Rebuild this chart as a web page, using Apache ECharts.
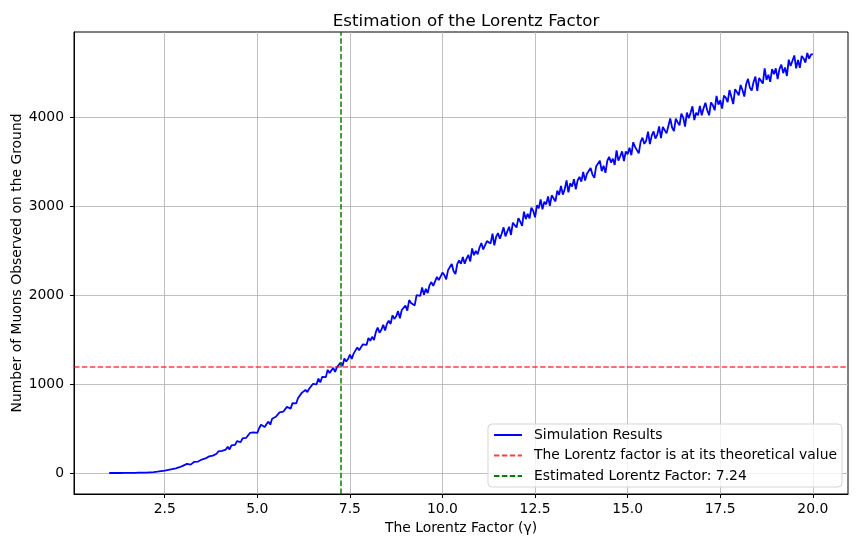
<!DOCTYPE html>
<html><head><meta charset="utf-8">
<script src="https://cdn.jsdelivr.net/npm/echarts@6/dist/echarts.min.js"></script>
<style>html,body{margin:0;padding:0;background:#fff}#c{width:859px;height:547px}</style>
</head><body><div id="c"></div>
<script>
const gamma = [
1.00,1.05,1.10,1.15,1.20,1.25,1.30,1.35,1.40,1.45,1.50,1.55,1.60,1.65,1.70,1.75,1.80,1.85,1.90,1.95,
2.00,2.05,2.10,2.15,2.20,2.25,2.30,2.35,2.40,2.45,2.50,2.55,2.60,2.65,2.70,2.75,2.80,2.85,2.90,2.95,
3.00,3.05,3.10,3.15,3.20,3.25,3.30,3.35,3.40,3.45,3.50,3.55,3.60,3.65,3.70,3.75,3.80,3.85,3.90,3.95,
4.00,4.05,4.10,4.15,4.20,4.25,4.30,4.35,4.40,4.45,4.50,4.55,4.60,4.65,4.70,4.75,4.80,4.85,4.90,4.95,
5.00,5.05,5.10,5.15,5.20,5.25,5.30,5.35,5.40,5.45,5.50,5.55,5.60,5.65,5.70,5.75,5.80,5.85,5.90,5.95,
6.00,6.05,6.10,6.15,6.20,6.25,6.30,6.35,6.40,6.45,6.50,6.55,6.60,6.65,6.70,6.75,6.80,6.85,6.90,6.95,
7.00,7.05,7.10,7.15,7.20,7.25,7.30,7.35,7.40,7.45,7.50,7.55,7.60,7.65,7.70,7.75,7.80,7.85,7.90,7.95,
8.00,8.05,8.10,8.15,8.20,8.25,8.30,8.35,8.40,8.45,8.50,8.55,8.60,8.65,8.70,8.75,8.80,8.85,8.90,8.95,
9.00,9.05,9.10,9.15,9.20,9.25,9.30,9.35,9.40,9.45,9.50,9.55,9.60,9.65,9.70,9.75,9.80,9.85,9.90,9.95,
10.00,10.05,10.10,10.15,10.20,10.25,10.30,10.35,10.40,10.45,10.50,10.55,10.60,10.65,10.70,10.75,10.80,10.85,10.90,10.95,
11.00,11.05,11.10,11.15,11.20,11.25,11.30,11.35,11.40,11.45,11.50,11.55,11.60,11.65,11.70,11.75,11.80,11.85,11.90,11.95,
12.00,12.05,12.10,12.15,12.20,12.25,12.30,12.35,12.40,12.45,12.50,12.55,12.60,12.65,12.70,12.75,12.80,12.85,12.90,12.95,
13.00,13.05,13.10,13.15,13.20,13.25,13.30,13.35,13.40,13.45,13.50,13.55,13.60,13.65,13.70,13.75,13.80,13.85,13.90,13.95,
14.00,14.05,14.10,14.15,14.20,14.25,14.30,14.35,14.40,14.45,14.50,14.55,14.60,14.65,14.70,14.75,14.80,14.85,14.90,14.95,
15.00,15.05,15.10,15.15,15.20,15.25,15.30,15.35,15.40,15.45,15.50,15.55,15.60,15.65,15.70,15.75,15.80,15.85,15.90,15.95,
16.00,16.05,16.10,16.15,16.20,16.25,16.30,16.35,16.40,16.45,16.50,16.55,16.60,16.65,16.70,16.75,16.80,16.85,16.90,16.95,
17.00,17.05,17.10,17.15,17.20,17.25,17.30,17.35,17.40,17.45,17.50,17.55,17.60,17.65,17.70,17.75,17.80,17.85,17.90,17.95,
18.00,18.05,18.10,18.15,18.20,18.25,18.30,18.35,18.40,18.45,18.50,18.55,18.60,18.65,18.70,18.75,18.80,18.85,18.90,18.95,
19.00,19.05,19.10,19.15,19.20,19.25,19.30,19.35,19.40,19.45,19.50,19.55,19.60,19.65,19.70,19.75,19.80,19.85,19.90,19.95,
20.00
];
const muons = [
0,0,0,0,0,1,0,1,1,1,2,1,2,3,2,3,4,3,4,5,
5,6,8,8,11,12,15,16,21,23,27,32,34,41,43,50,53,61,65,74,
83,79,103,101,94,111,126,140,129,133,151,165,164,161,187,202,195,213,217,244,
222,250,270,263,295,265,311,317,316,358,349,346,390,393,396,399,450,431,457,479,
452,503,543,547,516,550,578,544,610,597,632,614,682,662,689,686,743,737,724,786,
798,782,843,841,901,907,934,910,947,927,1001,998,997,1061,1019,1080,1093,1078,1160,1124,
1131,1182,1136,1190,1189,1241,1203,1287,1254,1281,1332,1282,1342,1332,1412,1381,1363,1447,1451,1440,
1518,1487,1531,1496,1583,1635,1578,1611,1666,1603,1679,1712,1676,1773,1733,1762,1820,1740,1833,1825,
1882,1825,1944,1911,1902,1884,1999,1994,1992,2087,2005,2070,2022,2110,2147,2104,2100,2204,2168,2164,
2253,2226,2177,2281,2263,2350,2269,2237,2351,2389,2352,2429,2352,2411,2452,2379,2525,2448,2497,2458,
2535,2586,2513,2500,2607,2589,2581,2692,2559,2656,2697,2633,2693,2762,2661,2717,2768,2676,2814,2800,
2760,2866,2826,2777,2938,2854,2915,2861,2982,2949,2875,3010,2975,3075,2965,3050,3020,3109,3003,3122,
3115,3053,3174,3127,3227,3129,3189,3290,3156,3257,3220,3304,3190,3291,3330,3276,3386,3287,3365,3352,
3429,3355,3318,3449,3434,3511,3393,3454,3374,3510,3555,3490,3534,3464,3626,3513,3561,3616,3508,3616,
3584,3658,3573,3719,3666,3630,3594,3723,3770,3700,3736,3838,3697,3793,3840,3759,3805,3896,3766,3890,
3910,3818,3902,3987,3884,3843,3984,3944,3908,4039,3998,3894,4052,3988,4049,4122,3967,4051,4021,4128,
4022,4101,4163,4077,4022,4166,4134,4078,4240,4141,4190,4096,4244,4221,4169,4305,4229,4147,4313,4284,
4247,4362,4306,4232,4371,4431,4332,4300,4396,4456,4296,4442,4428,4378,4548,4419,4478,4397,4541,4484,
4550,4429,4544,4591,4495,4560,4464,4647,4576,4561,4694,4549,4645,4555,4689,4661,4615,4722,4659,4705,
4710
];
const xTicks = [2.5, 5, 7.5, 10, 12.5, 15, 17.5, 20];
const yTicks = [0, 1000, 2000, 3000, 4000];
const theoreticalCount = 1200;
const estimatedGamma = 7.24;
const xRange = [0.05, 20.95];
const yRange = [-236, 4958];

const FONT = 'DejaVu Sans';
const FS = 13.9;
const chart = echarts.init(document.getElementById('c'), null, {renderer: 'canvas'});
const dashed = [5.5, 2.4];
chart.setOption({
  animation: false,
  backgroundColor: '#ffffff',
  textStyle: {fontFamily: FONT, color: '#000'},
  title: {
    text: 'Estimation of the Lorentz Factor',
    left: 461, top: 8, textAlign: 'center',
    textStyle: {fontFamily: FONT, fontSize: 16.7, fontWeight: 'normal', color: '#000'}
  },
  grid: {left: 74, right: 11, top: 32, bottom: 53, containLabel: false, outerBoundsMode: 'none',
    show: true, borderColor: '#000', borderWidth: 1, backgroundColor: 'transparent'},
  legend: {
    orient: 'vertical', right: 17, bottom: 60,
    backgroundColor: 'rgba(255,255,255,0.8)', borderColor: '#d5d5d5', borderWidth: 1, borderRadius: 4,
    padding: [4, 5, 4, 5], itemWidth: 28, itemHeight: 14, itemGap: 6.5,
    itemStyle: {opacity: 0},
    textStyle: {fontFamily: FONT, fontSize: FS, color: '#000', padding: [0, 0, 0, 7]},
    data: ['Simulation Results', 'The Lorentz factor is at its theoretical value', 'Estimated Lorentz Factor: ' + estimatedGamma.toFixed(2)]
  },
  xAxis: {
    type: 'value', min: xRange[0], max: xRange[1],
    name: 'The Lorentz Factor (γ)', nameLocation: 'middle', nameGap: 27, nameMoveOverlap: false,
    nameTextStyle: {fontFamily: FONT, fontSize: FS, color: '#000'},
    axisLine: {show: true, onZero: false, lineStyle: {color: '#000', width: 1}},
    axisTick: {show: true, length: 4, customValues: xTicks, lineStyle: {color: '#000'}},
    axisLabel: {customValues: xTicks, margin: 8, fontFamily: FONT, fontSize: FS, color: '#000', formatter: v => v.toFixed(1)},
    splitLine: {show: true, lineStyle: {color: '#b0b0b0', width: 0.8}}
  },
  yAxis: {
    type: 'value', min: yRange[0], max: yRange[1],
    name: 'Number of Muons Observed on the Ground', nameLocation: 'middle', nameGap: 50, nameMoveOverlap: false,
    nameTextStyle: {fontFamily: FONT, fontSize: FS, color: '#000'},
    axisLine: {show: true, onZero: false, lineStyle: {color: '#000', width: 1}},
    axisTick: {show: true, length: 4, customValues: yTicks, lineStyle: {color: '#000'}},
    axisLabel: {customValues: yTicks, margin: 10, fontFamily: FONT, fontSize: FS, color: '#000', formatter: v => String(v)},
    splitLine: {show: true, lineStyle: {color: '#b0b0b0', width: 0.8}}
  },
  series: [
    {
      name: 'Simulation Results', type: 'line', showSymbol: false, symbol: 'none',
      data: gamma.map((g, i) => [g, muons[i]]),
      lineStyle: {color: '#0000ff', width: 1.8}, itemStyle: {color: '#0000ff'}, z: 3
    },
    {
      name: 'The Lorentz factor is at its theoretical value', type: 'line', symbol: 'none', data: [],
      lineStyle: {color: 'rgba(255,0,0,0.75)', width: 1.5, type: dashed}, itemStyle: {color: 'rgba(255,0,0,0.75)'},
      markLine: {silent: true, symbol: 'none', label: {show: false}, animation: false,
        lineStyle: {color: 'rgba(255,0,0,0.75)', width: 1.5, type: dashed},
        data: [{yAxis: theoreticalCount}]}, z: 4
    },
    {
      name: 'Estimated Lorentz Factor: ' + estimatedGamma.toFixed(2), type: 'line', symbol: 'none', data: [],
      lineStyle: {color: '#008000', width: 1.5, type: dashed}, itemStyle: {color: '#008000'},
      markLine: {silent: true, symbol: 'none', label: {show: false}, animation: false,
        lineStyle: {color: '#008000', width: 1.5, type: dashed},
        data: [{xAxis: estimatedGamma}]}, z: 4
    }
  ]
});
</script></body></html>
